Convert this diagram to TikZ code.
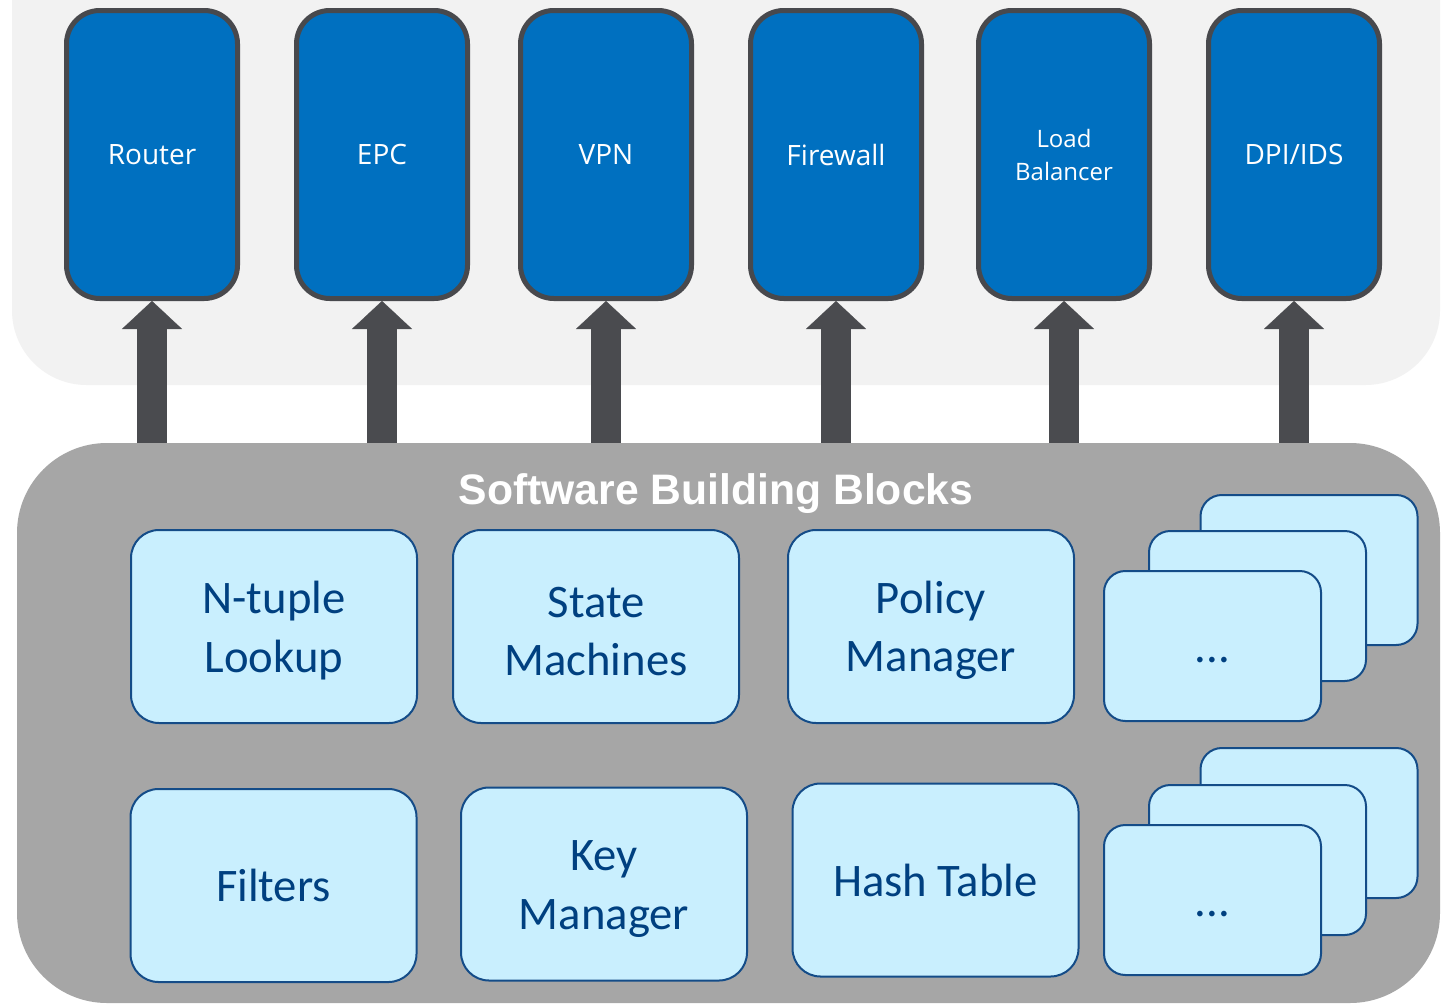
\documentclass[tikz,border=0pt]{standalone}
\usepackage{fontspec}
\setmainfont{Carlito}
\newfontfamily\nffont{Open Sans}
\newfontfamily\titlefont{Liberation Sans}
\usetikzlibrary{arrows.meta}

\definecolor{nfblue}{RGB}{0,112,192}
\definecolor{nfedge}{RGB}{72,73,77}
\definecolor{arrowgray}{RGB}{74,75,79}
\definecolor{toppanel}{RGB}{242,242,242}
\definecolor{botpanel}{RGB}{166,166,166}
\definecolor{blkfill}{RGB}{201,239,254}
\definecolor{blkedge}{RGB}{20,76,136}
\definecolor{blktext}{RGB}{0,64,128}

\begin{document}
\begin{tikzpicture}[x=0.75pt,y=0.75pt,yscale=-1,xscale=1,
  nfbox/.style={draw=nfedge, line width=3.75pt, fill=nfblue, rounded corners=25pt,
    minimum width=128.25pt, minimum height=216pt, inner sep=0pt, text=white, align=center,
    font=\nffont\fontsize{21}{25}\selectfont},
  blkbox/.style={draw=blkedge, line width=1.5pt, fill=blkfill, rounded corners=21pt,
    minimum width=214.5pt, minimum height=144.75pt, inner sep=0pt, text=blktext, align=center,
    font=\fontsize{35}{44}\selectfont},
  stackbox/.style={blkbox, rounded corners=16pt, minimum width=162.75pt, minimum height=112.5pt},
  bigarrow/.style={draw=arrowgray, line width=22.5pt, line cap=butt,
    -{Triangle[length=21pt,width=45pt,line width=0.1pt]}}
]
\path[use as bounding box, fill=white] (0,0) rectangle (1445,1003);

%Shape: Rounded Rect (top panel)
\fill[toppanel, rounded corners=56pt] (12,-120) rectangle (1440,385);

%Network functions
\node[nfbox] (router)   at (152,154.5)  {Router};
\node[nfbox] (epc)      at (382,154.5)  {EPC};
\node[nfbox] (vpn)      at (606,154.5)  {VPN};
\node[nfbox] (firewall) at (836,154.5)  {Firewall};
\node[nfbox, font=\nffont\fontsize{18}{24.75}\selectfont] (lb) at (1064,154.5) {Load\\Balancer};
\node[nfbox] (dpi)      at (1294,154.5) {DPI/IDS};

%Shape: Rounded Rect (bottom panel)
\node[fill=botpanel, rounded corners=67.5pt, minimum width=1067.25pt, minimum height=420pt, inner sep=0pt] (sbb) at (728.5,723) {};
% Text Node
\node[text=white, font=\titlefont\bfseries\fontsize{32}{38}\selectfont] (title) at (716,494) {Software Building Blocks};

%Straight Lines (block arrows)
\foreach \nf in {router,epc,vpn,firewall,lb,dpi}
  \draw[bigarrow] (\nf.south |- sbb.north) -- (\nf.south);

%Building blocks, first row
\node[blkbox] (ntuple) at (274,626.5) {\rule{0pt}{30pt}N-tuple\\Lookup};
\node[blkbox] (statem) at (596,626.5) {\rule{0pt}{30pt}State\\Machines};
\node[blkbox] (policy) at (931,626.5) {\rule{0pt}{30pt}Policy\\Manager};
\node[stackbox] (morea3) at (1309,570)   {};
\node[stackbox] (morea2) at (1257.5,606) {};
\node[stackbox] (morea1) at (1212.5,646) {\vphantom{l}...};

%Building blocks, second row
\node[blkbox] (filters) at (273.5,885.5) {Filters};
\node[blkbox] (keymgr)  at (604,884)     {\rule{0pt}{30pt}Key\\Manager};
\node[blkbox] (hashtab) at (935.5,880)   {Hash Table};
\node[stackbox] (moreb3) at (1309,823)   {};
\node[stackbox] (moreb2) at (1257.5,860) {};
\node[stackbox] (moreb1) at (1212.5,900) {\vphantom{l}...};
\end{tikzpicture}
\end{document}
